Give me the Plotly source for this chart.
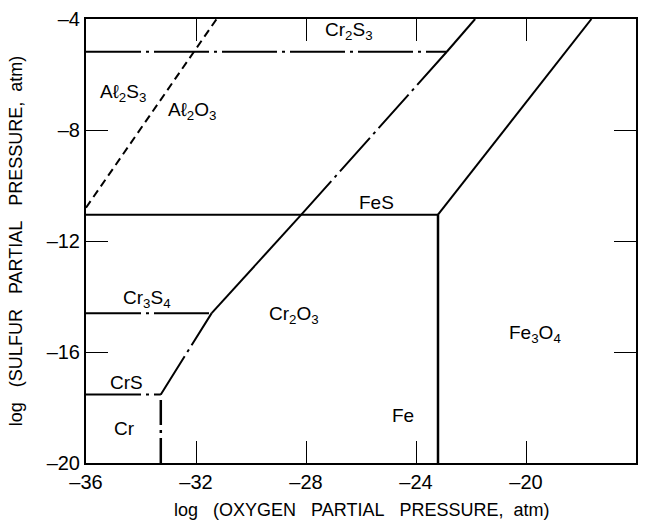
import plotly.graph_objects as go

# Axis ticks
x_ticks = [-36, -32, -28, -24, -20, -16]
y_ticks = [-20, -16, -12, -8, -4]

# Boundary lines (log pO2, log pS2)
# Al2S3 / Al2O3
al_x = [-36.0, -31.25]
al_y = [-10.8, -4.0]

# Chromium boundaries
cr2s3_x = [-36.0, -22.88]
cr2s3_y = [-5.18, -5.18]
cr3s4_x = [-36.0, -31.43]
cr3s4_y = [-14.6, -14.6]
crs_x = [-36.0, -33.28]
crs_y = [-17.53, -17.53]
cr_vert_x = [-33.28, -33.28]
cr_vert_y = [-20.0, -17.53]
cr_low_x = [-33.28, -31.43]
cr_low_y = [-17.53, -14.6]
cr_mid_x = [-31.43, -28.17]
cr_mid_y = [-14.6, -11.05]
cr_up_x = [-28.17, -22.88]
cr_up_y = [-11.05, -5.18]
cr_top_x = [-22.88, -21.85]
cr_top_y = [-5.18, -4.0]

# Iron boundaries
fes_x = [-36.0, -23.2]
fes_y = [-11.05, -11.05]
fe_vert_x = [-23.2, -23.2]
fe_vert_y = [-20.0, -11.05]
fe_diag_x = [-23.2, -17.62]
fe_diag_y = [-11.05, -4.0]

# Phase labels
labels = ["Cr<sub>2</sub>S<sub>3</sub>", "A\u2113<sub>2</sub>S<sub>3</sub>",
          "A\u2113<sub>2</sub>O<sub>3</sub>", "FeS", "Cr<sub>3</sub>S<sub>4</sub>",
          "Cr<sub>2</sub>O<sub>3</sub>", "CrS", "Cr", "Fe", "Fe<sub>3</sub>O<sub>4</sub>"]
label_x = [-26.43, -34.66, -32.16, -25.42, -33.79, -28.43, -34.51, -34.59, -24.48, -19.66]
label_y = [-4.45, -6.65, -7.3, -10.6, -14.1, -14.65, -17.1, -18.75, -18.3, -15.35]

FONT = "Liberation Sans"
CR_DASH = "55px,5px,3px,5px"

fig = go.Figure()


def seg(x, y, dash="solid", width=2.0):
    fig.add_trace(go.Scatter(x=x, y=y, mode="lines", showlegend=False,
                             hoverinfo="skip",
                             line=dict(color="black", width=width, dash=dash)))


seg(al_x, al_y, dash="8px,5px", width=2.0)
seg(cr2s3_x, cr2s3_y, dash=CR_DASH)
seg(cr3s4_x, cr3s4_y, dash=CR_DASH)
seg(crs_x, crs_y, dash=CR_DASH)
seg(cr_vert_x, cr_vert_y, dash="25px,5px,3px,5px", width=2.5)
seg(cr_low_x, cr_low_y, dash="45px,5px,3px,5px")
seg(cr_mid_x, cr_mid_y)
seg(cr_up_x, cr_up_y, dash="45px,5px,3px,5px")
seg(cr_top_x, cr_top_y)
seg(fes_x, fes_y)
seg(fe_vert_x, fe_vert_y, width=2.5)
seg(fe_diag_x, fe_diag_y)

for t, x, y in zip(labels, label_x, label_y):
    fig.add_annotation(x=x, y=y, text=t, showarrow=False,
                       font=dict(family=FONT, size=19, color="black"))

NB = "\u00a0"
xtitle = f"log{NB*3}(OXYGEN{NB*3}PARTIAL{NB*3}PRESSURE,{NB*2}atm)"
ytitle = f"log{NB*3}(SULFUR{NB*3}PARTIAL{NB*3}PRESSURE,{NB*2}atm)"
fig.add_annotation(xref="paper", yref="paper", x=0.5, y=-0.105, yanchor="middle",
                   text=xtitle, showarrow=False,
                   font=dict(family=FONT, size=18, color="black"))
fig.add_annotation(xref="paper", yref="paper", x=-0.127, y=0.5, xanchor="center",
                   text=ytitle, showarrow=False, textangle=-90,
                   font=dict(family=FONT, size=18, color="black"))

axis_common = dict(showgrid=False, zeroline=False, showline=True, linecolor="black",
                   linewidth=2, mirror="ticks", ticks="inside", ticklen=22,
                   tickwidth=1.2, tickcolor="black",
                   tickfont=dict(family=FONT, size=20, color="black"))

fig.update_xaxes(range=[-36, -16], tickvals=x_ticks,
                 ticktext=[str(v).replace("-", "\u2013") for v in x_ticks],
                 **axis_common)
fig.update_yaxes(range=[-20, -4], tickvals=y_ticks,
                 ticktext=[str(v).replace("-", "\u2013") for v in y_ticks],
                 **axis_common)

fig.update_layout(width=646, height=525, margin=dict(l=86, r=8, t=18, b=62),
                  plot_bgcolor="white", paper_bgcolor="white")

fig.write_html("out.html")
